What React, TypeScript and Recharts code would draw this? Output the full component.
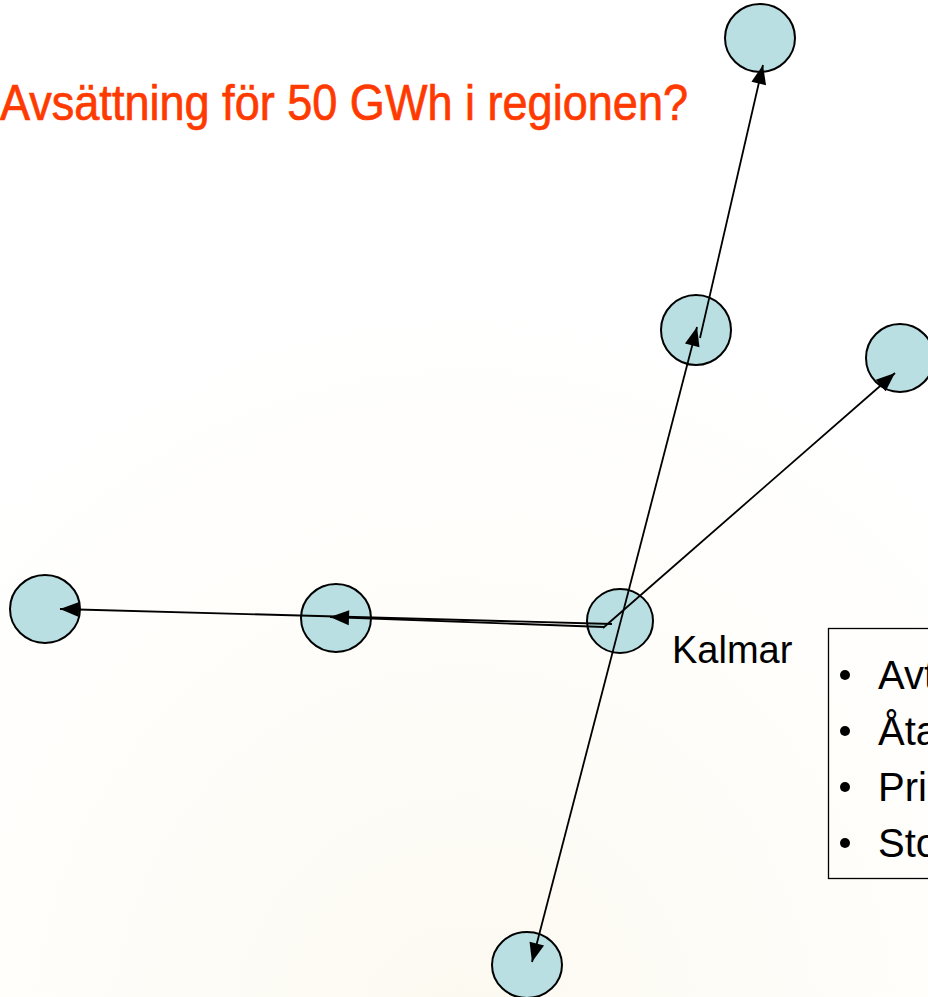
import React from "react";
import { ScatterChart, Scatter, XAxis, YAxis, Customized } from "recharts";

const W = 928;
const H = 997;

// node centres and radii (diagram coordinates)
const nodeNames = ["top", "upper", "right", "kalmar", "midLeft", "farLeft", "bottom"];
const nodeX = [760, 696, 900, 620, 336, 45, 527];
const nodeY = [38, 330, 358, 621, 618, 609, 965];
const nodeRx = [35, 35, 34, 33, 35, 35, 35];
const nodeRy = [34, 35, 34, 32, 34, 34, 33];

// arrows: start -> end (arrowhead at end)
const arrowFromX = [612, 604, 603, 621, 621, 700];
const arrowFromY = [624, 627, 628, 620, 620, 338];
const arrowToX = [60, 330, 895, 697, 532, 763];
const arrowToY = [609, 617, 373, 327, 962, 65];

const title = "Avsättning för 50 GWh i regionen?";
const cityLabel = "Kalmar";
const bulletItems = ["Avtal", "Åtagande", "Pris", "Storlek"];

const nodes = nodeNames.map((name, i) => ({
  name,
  x: nodeX[i],
  y: nodeY[i],
  rx: nodeRx[i],
  ry: nodeRy[i],
}));

const arrows = arrowFromX.map((_, i) => [
  { x: arrowFromX[i], y: arrowFromY[i], end: false, dx: 0, dy: 0 },
  {
    x: arrowToX[i],
    y: arrowToY[i],
    end: true,
    dx: arrowToX[i] - arrowFromX[i],
    dy: arrowToY[i] - arrowFromY[i],
  },
]);

const Ellipse = (props: any) => {
  const { cx, cy, payload } = props;
  if (cx == null || cy == null) return null;
  return (
    <ellipse
      cx={cx}
      cy={cy}
      rx={payload.rx}
      ry={payload.ry}
      fill="#b9dfe2"
      stroke="#000"
      strokeWidth={2}
    />
  );
};

const ArrowHead = (props: any) => {
  const { cx, cy, payload } = props;
  if (cx == null || cy == null || !payload || !payload.end) return <g />;
  const len = Math.sqrt(payload.dx * payload.dx + payload.dy * payload.dy) || 1;
  const ux = payload.dx / len;
  const uy = payload.dy / len;
  const hl = 19;
  const hw = 7.5;
  const bx = cx - ux * hl;
  const by = cy - uy * hl;
  const px = -uy * hw;
  const py = ux * hw;
  return (
    <polygon
      points={`${cx},${cy} ${bx + px},${by + py} ${bx - px},${by - py}`}
      fill="#000"
    />
  );
};

const Background = () => (
  <g>
    <defs>
      <radialGradient id="bgGrad" cx="0.5" cy="1.05" r="0.75">
        <stop offset="0%" stopColor="#fcf9f0" />
        <stop offset="55%" stopColor="#fefdf9" />
        <stop offset="100%" stopColor="#ffffff" />
      </radialGradient>
    </defs>
    <rect x={0} y={0} width={W} height={H} fill="url(#bgGrad)" />
  </g>
);

const Texts = () => (
  <g>
    <text
      x={0}
      y={120}
      fill="#ff3a00"
      stroke="#ff3a00"
      strokeWidth={0.7}
      fontFamily="'Liberation Sans Narrow', 'Liberation Sans', Arial, sans-serif"
      fontSize={50}
      textLength={688}
      lengthAdjust="spacingAndGlyphs"
    >
      {title}
    </text>
    <text
      x={672}
      y={663}
      fill="#000"
      fontFamily="'Liberation Sans', Arial, sans-serif"
      fontSize={38}
    >
      {cityLabel}
    </text>
    <rect x={828.5} y={628.5} width={120} height={250} fill="none" stroke="#000" strokeWidth={1.3} />
    {bulletItems.map((t, i) => (
      <g key={t}>
        <circle cx={845} cy={675 + i * 56} r={5} fill="#000" />
        <text
          x={878}
          y={689 + i * 56}
          fill="#000"
          fontFamily="'Liberation Sans', Arial, sans-serif"
          fontSize={40}
        >
          {t}
        </text>
      </g>
    ))}
  </g>
);

export default function App() {
  return (
    <div style={{ position: "absolute", left: 0, top: 0, width: W, height: H, overflow: "hidden", background: "#fff" }}>
      <ScatterChart width={W} height={H} margin={{ top: 0, right: 0, bottom: 0, left: 0 }}>
        <Customized component={Background} />
        <XAxis type="number" dataKey="x" domain={[0, W]} hide allowDataOverflow />
        <YAxis type="number" dataKey="y" domain={[0, H]} reversed hide allowDataOverflow />
        <Scatter data={nodes} shape={Ellipse} isAnimationActive={false} />
        {arrows.map((a, i) => (
          <Scatter
            key={i}
            data={a}
            line={{ stroke: "#000", strokeWidth: 1.8 }}
            lineType="joint"
            shape={ArrowHead}
            isAnimationActive={false}
          />
        ))}
        <Customized component={Texts} />
      </ScatterChart>
    </div>
  );
}
